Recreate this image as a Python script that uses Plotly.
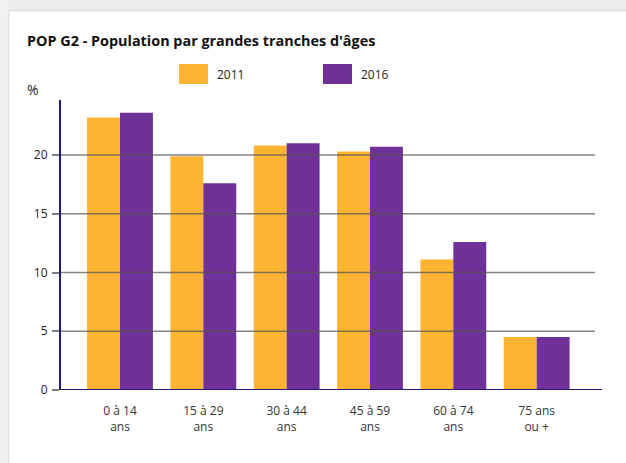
import plotly.graph_objects as go

categories = ["0 à 14<br>ans", "15 à 29<br>ans", "30 à 44<br>ans", "45 à 59<br>ans", "60 à 74<br>ans", "75 ans<br>ou +"]
series_names = ["2011", "2016"]
values_2011 = [23.2, 19.9, 20.8, 20.3, 11.1, 4.5]
values_2016 = [23.6, 17.6, 21.0, 20.7, 12.6, 4.5]
colors = ["#FDB433", "#6F3198"]
y_ticks = [0, 5, 10, 15, 20]

W, H = 626, 463
L, R, T, B = 61, 595, 100, 390  # plot area in pixels
pw, ph = R - L, B - T

def px_x(x):
    return (x - L) / pw

def px_y(y):
    return (B - y) / ph

fig = go.Figure()
idx = list(range(len(categories)))
for name, vals, col in zip(series_names, [values_2011, values_2016], colors):
    fig.add_trace(go.Bar(x=idx, y=vals, name=name, marker=dict(color=col, line=dict(width=0)),
                         showlegend=False))

shapes = []
# page background borders
shapes.append(dict(type="rect", xref="paper", yref="paper", x0=px_x(0), x1=px_x(W), y0=px_y(0), y1=px_y(10),
                   fillcolor="#eeeeee", line=dict(width=0), layer="below"))
shapes.append(dict(type="rect", xref="paper", yref="paper", x0=px_x(0), x1=px_x(8), y0=px_y(0), y1=px_y(H),
                   fillcolor="#f1f1f1", line=dict(width=0), layer="below"))
shapes.append(dict(type="line", xref="paper", yref="paper", x0=px_x(8), x1=px_x(W), y0=px_y(10.5), y1=px_y(10.5),
                   line=dict(color="#dddddd", width=1.5)))
shapes.append(dict(type="line", xref="paper", yref="paper", x0=px_x(8.5), x1=px_x(8.5), y0=px_y(10), y1=px_y(H),
                   line=dict(color="#e3e3e3", width=1.5)))
# gridlines above bars
for t in y_ticks[1:]:
    shapes.append(dict(type="line", xref="paper", yref="y", x0=0, x1=1, y0=t, y1=t,
                       line=dict(color="rgba(85,85,85,0.72)", width=1.6), layer="above"))
# x axis line
shapes.append(dict(type="line", xref="paper", yref="y", x0=0, x1=px_x(602), y0=0, y1=0,
                   line=dict(color="#1f1a78", width=2), layer="above"))
# custom legend swatches
leg_x = [179, 323]
for xs, col in zip(leg_x, colors):
    shapes.append(dict(type="rect", xref="paper", yref="paper", x0=px_x(xs), x1=px_x(xs + 29),
                       y0=px_y(84), y1=px_y(64), fillcolor=col, line=dict(width=0)))

annotations = []
for xs, name in zip(leg_x, series_names):
    annotations.append(dict(text=name, xref="paper", yref="paper", x=px_x(xs + 36), y=px_y(74),
                            xanchor="left", yanchor="middle", showarrow=False,
                            font=dict(size=12, color="#222")))
annotations.append(dict(text="%", xref="paper", yref="paper", x=px_x(25), y=px_y(89),
                        xanchor="left", yanchor="middle", showarrow=False,
                        font=dict(size=14, color="#222")))
annotations.append(dict(text="<b>POP G2 - Population par grandes tranches d'âges</b>", xref="paper", yref="paper",
                        x=px_x(25), y=px_y(40), xanchor="left", yanchor="middle", showarrow=False,
                        font=dict(size=14.4, color="#111")))

fig.update_layout(
    width=W, height=H,
    margin=dict(l=L, r=W - R, t=T, b=H - B, pad=0),
    paper_bgcolor="white", plot_bgcolor="white",
    font=dict(family="Open Sans", size=12, color="#333"),
    barmode="group", bargap=0.21, bargroupgap=0,
    shapes=shapes, annotations=annotations,
    xaxis=dict(range=[-0.708, 5.70], tickmode="array", tickvals=idx, ticktext=categories,
               showgrid=False, zeroline=False, showline=False, ticks="", ticklabelstandoff=12,
               tickfont=dict(size=12, color="#333")),
    yaxis=dict(range=[0, 24.68], tickmode="array", tickvals=y_ticks, showgrid=False, zeroline=False,
               showline=True, linecolor="#1f1a78", linewidth=2, ticks="outside", ticklen=7,
               tickcolor="#808080", tickwidth=1.5, ticklabelstandoff=2,
               tickfont=dict(size=12, color="#222")),
)
fig.write_html("out.html", config={"displayModeBar": False},
               post_script="document.body.style.margin='0px';")
